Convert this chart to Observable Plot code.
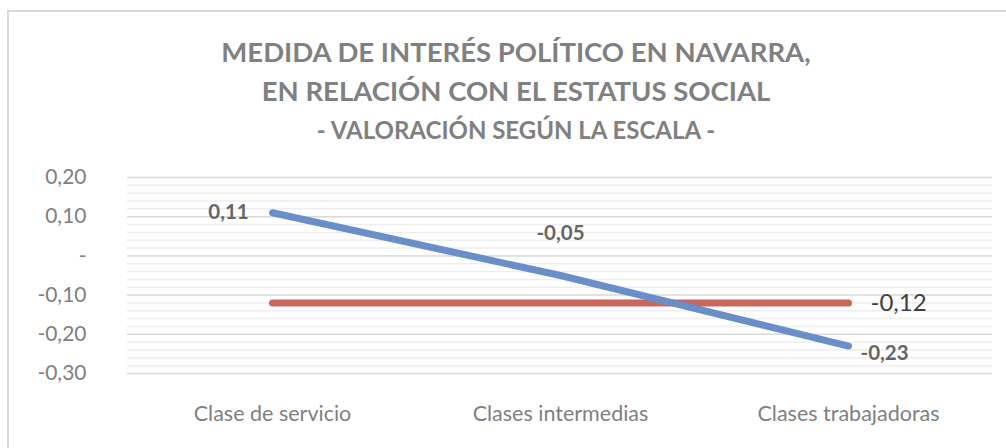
<!DOCTYPE html>
<html>
<head>
<meta charset="utf-8">
<script src="https://cdn.jsdelivr.net/npm/d3@7"></script>
<script src="https://cdn.jsdelivr.net/npm/@observablehq/plot@0.6"></script>
<style>
  html, body { margin: 0; padding: 0; background: #fff; }
  #wrap { position: relative; width: 1006px; height: 448px; overflow: hidden; font-family: Lato, "Open Sans", sans-serif; }
  #frame { position: absolute; left: 7px; top: 10px; width: 1010px; height: 450px; border: 2px solid #d9d9d9; box-sizing: border-box; }
  #title { position: absolute; left: 13px; top: 0; width: 1006px; height: 160px; text-align: center; color: #808080; font-weight: bold; }
  #title .t1 { position: absolute; left: 0; width: 100%; top: 33px; font-size: 27.5px; line-height: 38px; }
  #title .t2 { position: absolute; left: 0; width: 100%; top: 72px; font-size: 27.5px; line-height: 38px; }
  #title .t3 { position: absolute; left: 0; width: 100%; top: 115px; font-size: 24px; line-height: 30px; }
  #chart { position: absolute; left: 0; top: 160px; }
</style>
</head>
<body>
<div id="wrap">
  <div id="frame"></div>
  <div id="title">
    <div class="t1">MEDIDA DE INTERÉS POLÍTICO EN NAVARRA,</div>
    <div class="t2">EN RELACIÓN CON EL ESTATUS SOCIAL</div>
    <div class="t3">- VALORACIÓN SEGÚN LA ESCALA -</div>
  </div>
  <div id="chart"></div>
</div>
<script>
const categories = ["Clase de servicio", "Clases intermedias", "Clases trabajadoras"];
const blueValues = [0.11, -0.05, -0.23];
const redValues = [-0.12, -0.12, -0.12];
const majorTicks = [0.2, 0.1, 0, -0.1, -0.2, -0.3];
const minorTicks = [0.18, 0.16, 0.14, 0.12, 0.08, 0.06, 0.04, 0.02, -0.02, -0.04, -0.06, -0.08, -0.12, -0.14, -0.16, -0.18, -0.22, -0.24, -0.26, -0.28];

const blue = categories.map((c, i) => ({cat: c, v: blueValues[i]}));
const red = categories.map((c, i) => ({cat: c, v: redValues[i]}));

const fmt = v => Math.abs(v) < 1e-9 ? "-" : d3.format(".2f")(v).replace(".", ",").replace("−", "-");

const blueColor = "#6a8fc8";
const redColor = "#c9665e";

const chart = Plot.plot({
  width: 1006,
  height: 288,
  marginTop: 17,
  marginBottom: 75,
  marginLeft: 127,
  marginRight: 14,
  style: {fontFamily: "Lato, 'Open Sans', sans-serif", background: "transparent"},
  x: {type: "point", domain: categories, padding: 0.5},
  y: {domain: [-0.3, 0.2]},
  marks: [
    Plot.ruleY(minorTicks, {stroke: "#eeeeee", strokeWidth: 1.5}),
    Plot.ruleY(majorTicks, {stroke: "#d9d9d9", strokeWidth: 1.5}),
    Plot.axisY({ticks: majorTicks, tickFormat: fmt, tickSize: 0, tickPadding: 41, fontSize: 21, color: "#7f7f7f", label: null}),
    Plot.axisX({tickSize: 0, tickPadding: 32, fontSize: 21.5, color: "#7f7f7f", label: null}),
    Plot.line(red, {x: "cat", y: "v", stroke: redColor, strokeWidth: 7, strokeLinecap: "round"}),
    Plot.line(blue, {x: "cat", y: "v", stroke: blueColor, strokeWidth: 7, strokeLinecap: "round", strokeLinejoin: "round"}),
    Plot.text([blue[0]], {x: "cat", y: "v", text: d => fmt(d.v), dx: -44, fontWeight: "bold", fontSize: 20.5, fill: "#666666"}),
    Plot.text([blue[1]], {x: "cat", y: "v", text: d => fmt(d.v), dy: -42, fontWeight: "bold", fontSize: 20.5, fill: "#666666"}),
    Plot.text([blue[2]], {x: "cat", y: "v", text: d => fmt(d.v), dx: 12, dy: 7, textAnchor: "start", fontWeight: "bold", fontSize: 20.5, fill: "#666666"}),
    Plot.text([red[2]], {x: "cat", y: "v", text: d => fmt(d.v), dx: 22, textAnchor: "start", fontSize: 24, fill: "#404040"})
  ]
});
document.getElementById("chart").appendChild(chart);
</script>
</body>
</html>
